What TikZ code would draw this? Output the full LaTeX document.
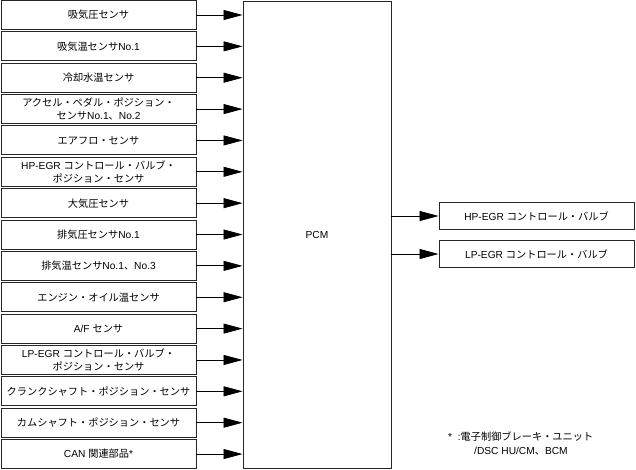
\documentclass[tikz,border=0pt]{standalone}
\usepackage{fontspec}
\setmainfont{Liberation Sans}
\newfontfamily\jpfont[Scale=1.0]{Noto Sans CJK JP}
\newcommand{\jp}[1]{{\jpfont #1}}
\usetikzlibrary{arrows.meta, positioning}

\tikzset{
  sensor/.style={draw=black!85, line width=0.9pt, minimum width=195pt,
                 minimum height=29pt, inner sep=1pt, align=center},
  actuator/.style={sensor, minimum height=27pt},
  feed/.style={line width=0.8pt, -{Triangle[length=19pt,width=10pt]}},
}

\begin{document}
\begin{tikzpicture}[x=1pt, y=-1pt, font=\fontsize{10.2}{13.5}\selectfont]
  \useasboundingbox (0,0) rectangle (636,469);

  % PCM unit
  \node[draw=black!85, line width=0.9pt, minimum width=148pt,
        minimum height=467pt, inner sep=0pt] (pcm) at (317,234.5) {PCM};

  % Input sensors, top to bottom
  \foreach \txt [count=\i] in {
      {\jp{吸気圧センサ}},
      {\jp{吸気温センサ}No.1},
      {\jp{冷却水温センサ}},
      {\jp{アクセル・ペダル・ポジション・}\\\jp{センサ}No.1\jp{、}No.2},
      {\jp{エアフロ・センサ}},
      {HP-EGR \jp{コントロール・バルブ・}\\\jp{ポジション・センサ}},
      {\jp{大気圧センサ}},
      {\jp{排気圧センサ}No.1},
      {\jp{排気温センサ}No.1\jp{、}No.3},
      {\jp{エンジン・オイル温センサ}},
      {A/F \jp{センサ}},
      {LP-EGR \jp{コントロール・バルブ・}\\\jp{ポジション・センサ}},
      {\jp{クランクシャフト・ポジション・センサ}},
      {\jp{カムシャフト・ポジション・センサ}},
      {CAN \jp{関連部品}*}} {
    \node[sensor] (s\i) at (98.5,{15+31.36*(\i-1)}) {\txt};
    \draw[feed] (s\i.east) -- (s\i.east -| pcm.west);
  }

  % Outputs
  \node[actuator] (hp) at (536.5,216) {HP-EGR \jp{コントロール・バルブ}};
  \node[actuator] (lp) at (536.5,254) {LP-EGR \jp{コントロール・バルブ}};
  \draw[feed] (pcm.east |- hp.west) -- (hp.west);
  \draw[feed] (pcm.east |- lp.west) -- (lp.west);

  % Footnote
  \node[anchor=north west, align=left, inner sep=0pt] (note) at (448,432)
    {*\ \ :\jp{電子制御ブレーキ・ユニット}\\\hspace*{26pt}/DSC HU/CM\jp{、}BCM};
\end{tikzpicture}
\end{document}
